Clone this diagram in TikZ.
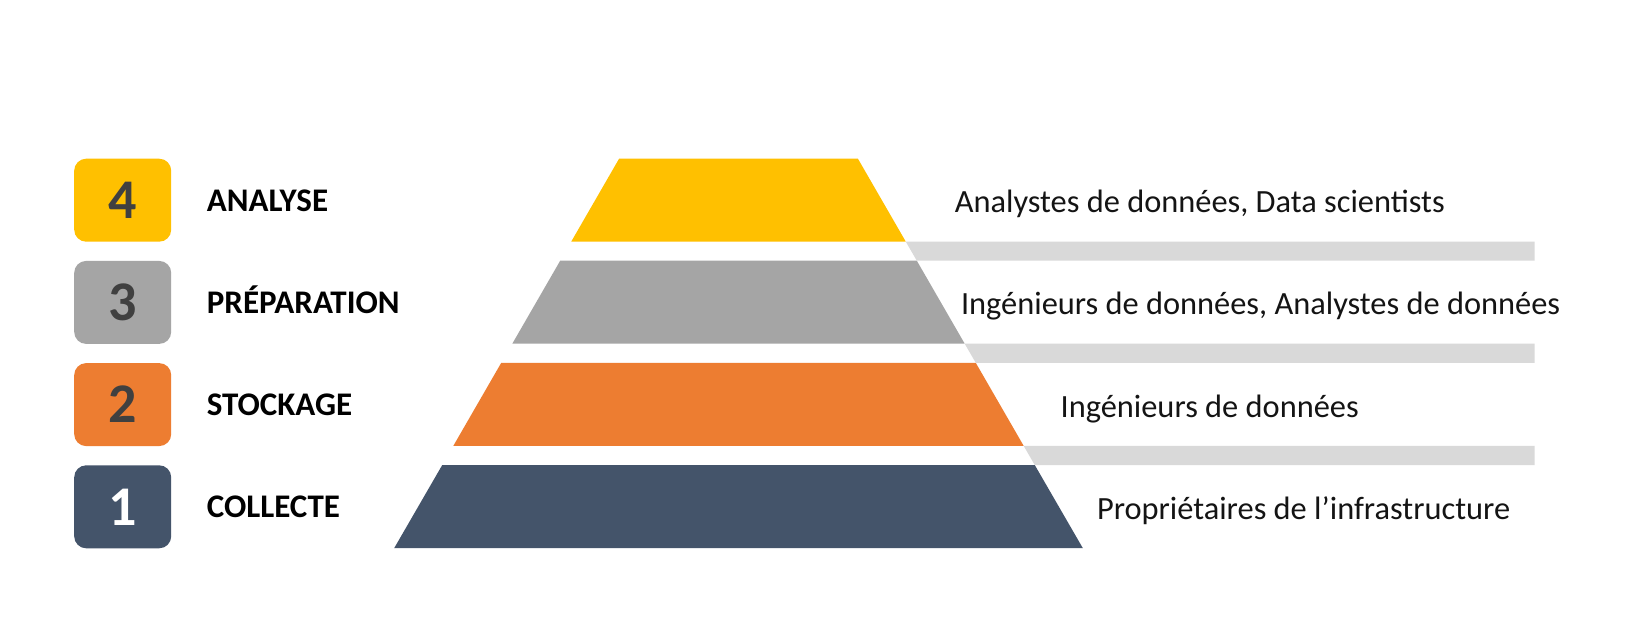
\documentclass[tikz,border=0pt]{standalone}
\usepackage{fontspec}
\setmainfont{Carlito}
\definecolor{cyel}{HTML}{FFC000}
\definecolor{cgry}{HTML}{A5A5A5}
\definecolor{corg}{HTML}{ED7D31}
\definecolor{cnav}{HTML}{44546A}
\definecolor{cbar}{HTML}{D9D9D9}
\definecolor{cnum}{HTML}{404040}
\begin{document}
\begin{tikzpicture}[x=1pt,y=-1pt,
  numbox/.style={rounded corners=12pt, minimum width=97pt, minimum height=83pt, inner sep=0pt, draw=none, anchor=north west},
  numtxt/.style={font=\fontsize{56}{56}\selectfont\bfseries, text=cnum, anchor=base, inner sep=0pt},
  steplbl/.style={font=\fontsize{33}{34}\selectfont\bfseries, text=black, anchor=base west, inner sep=0pt},
  rolelbl/.style={font=\fontsize{32.4}{33}\selectfont, text=black!92, anchor=base west, inner sep=0pt},
  bar/.style={fill=cbar, draw=none},
  level/.style={draw=none}
]
\useasboundingbox (0,0) rectangle (1627,640);
\fill[white] (0,0) rectangle (1627,640);

% pyramid levels
\fill[cyel] (619.2,158.5) -- (857.8,158.5) -- (905.7,241.5) -- (571.3,241.5) -- cycle;
\fill[cgry] (560.2,260.7) -- (916.8,260.7) -- (964.7,343.7) -- (512.3,343.7) -- cycle;
\fill[corg] (501.2,362.9) -- (975.8,362.9) -- (1023.7,445.9) -- (453.3,445.9) -- cycle;
\fill[cnav] (442.2,465.1) -- (1034.8,465.1) -- (1082.8,548.1) -- (394.2,548.1) -- cycle;

% separator bars
\fill[bar] (905.7,241.5) -- (1534.5,241.5) -- (1534.5,260.7) -- (916.8,260.7) -- cycle;
\fill[bar] (964.7,343.7) -- (1534.5,343.7) -- (1534.5,362.9) -- (975.8,362.9) -- cycle;
\fill[bar] (1023.7,445.9) -- (1534.5,445.9) -- (1534.5,465.1) -- (1034.8,465.1) -- cycle;

% number boxes
\node[numbox, fill=cyel] (b4) at (74,158.5) {};
\node[numbox, fill=cgry] (b3) at (74,260.7) {};
\node[numbox, fill=corg] (b2) at (74,362.9) {};
\node[numbox, fill=cnav] (b1) at (74,465.1) {};
\node[numtxt] (n4) at (122.5,218.5) {4};
\node[numtxt] (n3) at (122.5,320.7) {3};
\node[numtxt] (n2) at (122.5,422.9) {2};
\node[numtxt, text=white] (n1) at (122.5,525.1) {1};

% step labels
\node[steplbl] (l4) at (206.7,211.2) {ANALYSE};
\node[steplbl] (l3) at (206.7,313.4) {PRÉPARATION};
\node[steplbl] (l2) at (206.7,415.6) {STOCKAGE};
\node[steplbl] (l1) at (206.7,517.8) {COLLECTE};

% role labels
\node[rolelbl] (r4) at (954.6,212.7) {Analystes de données, Data scientists};
\node[rolelbl] (r3) at (960.8,314.9) {Ingénieurs de données, Analystes de données};
\node[rolelbl] (r2) at (1060.4,417.1) {Ingénieurs de données};
\node[rolelbl] (r1) at (1096.8,519.3) {Propriétaires de l’infrastructure};
\end{tikzpicture}
\end{document}
